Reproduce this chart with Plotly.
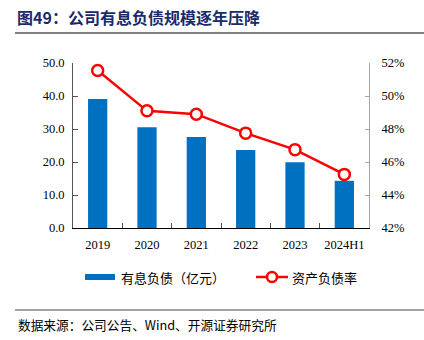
import plotly.graph_objects as go

categories = ["2019", "2020", "2021", "2022", "2023", "2024H1"]
debt = [39.1, 30.5, 27.6, 23.6, 19.9, 14.3]
ratio = [51.55, 49.1, 48.9, 47.75, 46.75, 45.25]
left_ticks = [0, 10, 20, 30, 40, 50]
right_ticks = [42, 44, 46, 48, 50, 52]
right_labels = ["42%", "44%", "46%", "48%", "50%", "52%"]

W, H = 424, 340
L, R, T, B = 73, 55, 63, 112

serif = "Liberation Serif, Times New Roman, serif"
cjk = "Noto Sans CJK SC, sans-serif"

fig = go.Figure()
fig.add_trace(go.Bar(x=categories, y=debt, marker=dict(color="#0070C0", line=dict(width=0)),
                     width=0.39, name="有息负债（亿元）", yaxis="y"))
fig.add_trace(go.Scatter(x=categories, y=ratio, mode="lines+markers", name="资产负债率",
                         line=dict(color="#FF0000", width=2.5),
                         marker=dict(symbol="circle", size=11, color="white",
                                     line=dict(color="#FF0000", width=2.5)),
                         yaxis="y2"))

fig.update_layout(
    width=W, height=H,
    margin=dict(l=L, r=R, t=T, b=B, pad=0),
    paper_bgcolor="white", plot_bgcolor="white",
    showlegend=False,
    xaxis=dict(type="category", showline=True, linecolor="#000000", linewidth=1,
               ticks="inside", ticklen=5, tickcolor="#555555", tickson="boundaries",
               showgrid=False, tickfont=dict(family=serif, size=12.5, color="#000"),
               ticklabelstandoff=5),
    yaxis=dict(range=[0, 50], tickvals=left_ticks, tickformat=".1f", showline=True,
               linecolor="#555555", linewidth=1, ticks="inside", ticklen=5, tickcolor="#555555",
               showgrid=False, zeroline=False, ticklabelstandoff=5,
               tickfont=dict(family=serif, size=12.5, color="#000")),
    yaxis2=dict(range=[42, 52], tickmode="array", tickvals=right_ticks, ticktext=right_labels,
                overlaying="y", side="right",
                showline=True, linecolor="#A6A6A6", linewidth=1, ticks="inside", ticklen=4,
                tickcolor="#A6A6A6", showgrid=False, zeroline=False, ticklabelstandoff=9,
                tickfont=dict(family=serif, size=12.5, color="#000")),
)

def pxx(x):
    return (x - L) / (W - L - R)

def pxy(y):
    return (H - B - y) / (H - T - B)

shapes = [
    dict(type="line", xref="paper", yref="paper", x0=pxx(15), x1=pxx(W),
         y0=pxy(33), y1=pxy(33), line=dict(color="#808080", width=2)),
    dict(type="line", xref="paper", yref="paper", x0=pxx(15), x1=pxx(W),
         y0=pxy(310), y1=pxy(310), line=dict(color="#808080", width=1.5)),
    dict(type="rect", xref="paper", yref="paper", x0=pxx(85), x1=pxx(115),
         y0=pxy(280), y1=pxy(274), fillcolor="#0070C0", line=dict(width=0)),
    dict(type="line", xref="paper", yref="paper", x0=pxx(256), x1=pxx(288),
         y0=pxy(277), y1=pxy(277), line=dict(color="#FF0000", width=2.5)),
    dict(type="circle", xref="paper", yref="paper", x0=pxx(267), x1=pxx(277),
         y0=pxy(282), y1=pxy(272), fillcolor="white", line=dict(color="#FF0000", width=2.5)),
]
fig.update_layout(shapes=shapes)

annotations = [
    dict(text="<b>图49：公司有息负债规模逐年压降</b>", xref="paper", yref="paper",
         x=pxx(15), y=pxy(17), xanchor="left", yanchor="middle", showarrow=False,
         font=dict(family=cjk, size=16, color="#1B2A6B")),
    dict(text="有息负债（亿元）", xref="paper", yref="paper", x=pxx(119), y=pxy(277),
         xanchor="left", yanchor="middle", showarrow=False,
         font=dict(family=cjk, size=13, color="#000")),
    dict(text="资产负债率", xref="paper", yref="paper", x=pxx(290), y=pxy(277),
         xanchor="left", yanchor="middle", showarrow=False,
         font=dict(family=cjk, size=13, color="#000")),
    dict(text="数据来源：公司公告、Wind、开源证券研究所", xref="paper", yref="paper",
         x=pxx(16), y=pxy(324), xanchor="left", yanchor="middle", showarrow=False,
         font=dict(family=cjk, size=12.7, color="#000")),
]
fig.update_layout(annotations=annotations)

fig.write_html("out.html")
